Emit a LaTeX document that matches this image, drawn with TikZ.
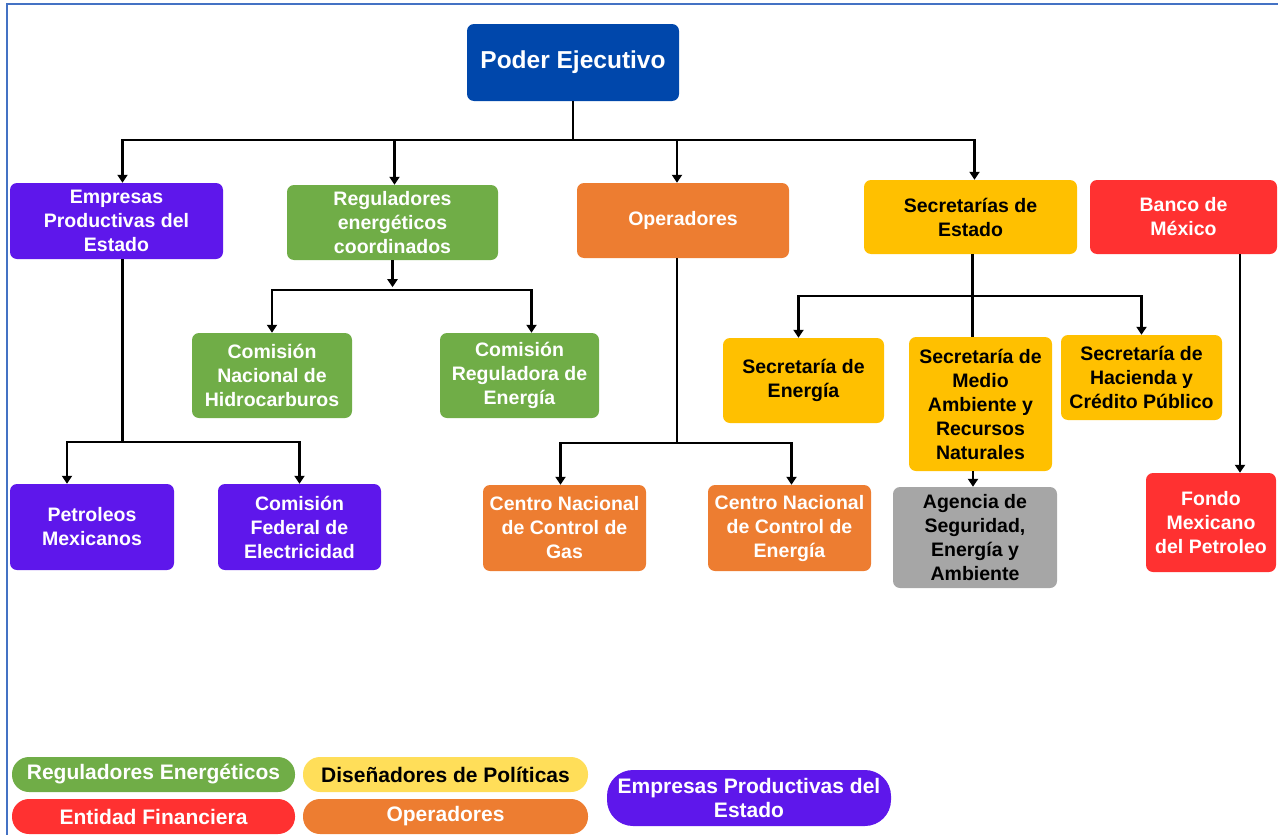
\documentclass[tikz,border=0pt]{standalone}
\usepackage{fontspec}
\setmainfont{Liberation Sans}
\usetikzlibrary{arrows.meta}
\usepackage{xcolor}

\definecolor{azulpe}{RGB}{0,71,171}
\definecolor{morado}{RGB}{94,23,235}
\definecolor{verde}{RGB}{112,173,71}
\definecolor{naranja}{RGB}{237,125,49}
\definecolor{amarillo}{RGB}{255,192,0}
\definecolor{amarillol}{RGB}{255,222,89}
\definecolor{rojo}{RGB}{255,49,49}
\definecolor{gris}{RGB}{166,166,166}
\definecolor{bordeazul}{RGB}{68,114,196}

\begin{document}
\begin{tikzpicture}[x=1pt,y=-1pt,
    caja/.style={rounded corners=7pt, align=center, inner sep=1pt, text=white,
        font=\bfseries\fontsize{19.5}{24}\selectfont},
    leyenda/.style={rounded corners=17pt, align=center, inner sep=1pt, text=white,
        minimum width=284pt, minimum height=35pt, font=\bfseries\fontsize{21}{24}\selectfont},
    flecha/.style={-{Triangle[width=10pt,length=8pt]}, line width=2.2pt},
    linea/.style={line width=2.2pt}]

    % Tamaño de la figura (en px de la imagen)
    \useasboundingbox (0,0) rectangle (1278,835);

    % Marco azul (solo arriba e izquierda)
    \draw[line width=2pt, bordeazul] (7,835) -- (7,4) -- (1278,4);

    % Nivel 0
    \node[caja, fill=azulpe, minimum width=212pt, minimum height=77pt,
        font=\bfseries\fontsize{24.5}{28}\selectfont] (pe) at (573,62.5) {Poder Ejecutivo};

    % Nivel 1
    \node[caja, fill=morado, minimum width=213pt, minimum height=76pt] (eps) at (116.5,221) {Empresas\\Productivas del\\Estado};
    \node[caja, fill=verde, minimum width=211pt, minimum height=75pt] (reg) at (392.5,222.5) {Reguladores\\energéticos\\coordinados};
    \node[caja, fill=naranja, minimum width=212pt, minimum height=75pt] (ope) at (683,220.5) {Operadores};
    \node[caja, fill=amarillo, text=black, minimum width=213pt, minimum height=74pt] (sec) at (970.5,217) {Secretarías de\\Estado};
    \node[caja, fill=rojo, minimum width=187pt, minimum height=74pt] (banxico) at (1183.5,217) {Banco de\\México};

    % Nivel 2: reguladores y secretarías
    \node[caja, fill=verde, minimum width=160pt, minimum height=85pt] (cnh) at (272,375.5) {Comisión\\Nacional de\\Hidrocarburos};
    \node[caja, fill=verde, minimum width=159pt, minimum height=85pt] (cre) at (519.5,375.5) {Comisión\\Reguladora de\\Energía};
    \node[caja, fill=amarillo, text=black, minimum width=161pt, minimum height=85pt] (sener) at (803.5,380.5) {Secretaría de\\Energía};
    \node[caja, fill=amarillo, text=black, minimum width=143pt, minimum height=134pt] (semarnat) at (980.5,404) {Secretaría de\\Medio\\Ambiente y\\Recursos\\Naturales};
    \node[caja, fill=amarillo, text=black, minimum width=161pt, minimum height=85pt] (shcp) at (1141.5,377.5) {Secretaría de\\Hacienda y\\Crédito Público};

    % Nivel 3: empresas, operadores, agencia, fondo
    \node[caja, fill=morado, minimum width=164pt, minimum height=86pt] (pemex) at (92,527) {Petroleos\\Mexicanos};
    \node[caja, fill=morado, minimum width=163pt, minimum height=86pt] (cfe) at (299.5,527) {Comisión\\Federal de\\Electricidad};
    \node[caja, fill=naranja, minimum width=163pt, minimum height=86pt] (cenagas) at (564.5,528) {Centro Nacional\\de Control de\\Gas};
    \node[caja, fill=naranja, minimum width=163pt, minimum height=86pt] (cenace) at (789.5,528) {Centro Nacional\\de Control de\\Energía};
    \node[caja, fill=gris, text=black, minimum width=164pt, minimum height=101pt] (asea) at (975,537.5) {Agencia de\\Seguridad,\\Energía y\\Ambiente};
    \node[caja, fill=rojo, minimum width=130pt, minimum height=99pt] (fmp) at (1211,522.5) {Fondo\\Mexicano\\del Petroleo};

    % Conectores desde el Poder Ejecutivo
    \foreach \n/\dx in {eps/6,reg/2,ope/-6,sec/4}
        \draw[flecha] (pe.south) -- ++(0,39) -| ([xshift=\dx pt]\n.north);

    % Reguladores
    \draw[flecha] (reg.south) -- ++(0,27);
    \draw[flecha] (reg.south) ++(0,30) -| (cnh.north);
    \draw[flecha] (reg.south) ++(0,30) -| ([xshift=12pt]cre.north);

    % Empresas productivas
    \draw[flecha] ([xshift=6pt]eps.south) -- ++(0,183) -| ([xshift=-25pt]pemex.north);
    \draw[flecha] ([xshift=6pt]eps.south) ++(0,183) -| (cfe.north);

    % Operadores
    \draw[flecha] ([xshift=-6pt]ope.south) -- ++(0,185) -| ([xshift=-4pt]cenagas.north);
    \draw[flecha] ([xshift=-6pt]ope.south) ++(0,185) -| ([xshift=2pt]cenace.north);

    % Secretarías
    \draw[flecha] ([xshift=2pt]sec.south) -- ++(0,42) -| ([xshift=-5pt]sener.north);
    \draw[flecha] ([xshift=2pt]sec.south) ++(0,42) -| (shcp.north);
    \draw[linea] ([xshift=2pt]sec.south) -- ([xshift=2pt]sec.south |- semarnat.north);
    \draw[flecha] ([xshift=-2pt]asea.north |- semarnat.south) -- ([xshift=-2pt]asea.north);

    % Banco de México
    \draw[flecha] ([xshift=29pt]fmp.north |- banxico.south) -- ([xshift=29pt]fmp.north);

    % Leyenda
    \node[leyenda, fill=verde, minimum width=283pt] (lreg) at (153.5,774.5) {Reguladores Energéticos};
    \node[leyenda, fill=amarillol, text=black, minimum width=285pt] (ldis) at (445.5,774.5) {Diseñadores de Políticas};
    \node[leyenda, fill=rojo, minimum width=283pt] (lfin) at (153.5,816.5) {Entidad Financiera};
    \node[leyenda, fill=naranja, minimum width=285pt] (lope) at (445.5,816.5) {Operadores};
    \node[leyenda, fill=morado, minimum height=56pt, rounded corners=26pt] (leps) at (749,798) {Empresas Productivas del\\Estado};
\end{tikzpicture}
\end{document}
